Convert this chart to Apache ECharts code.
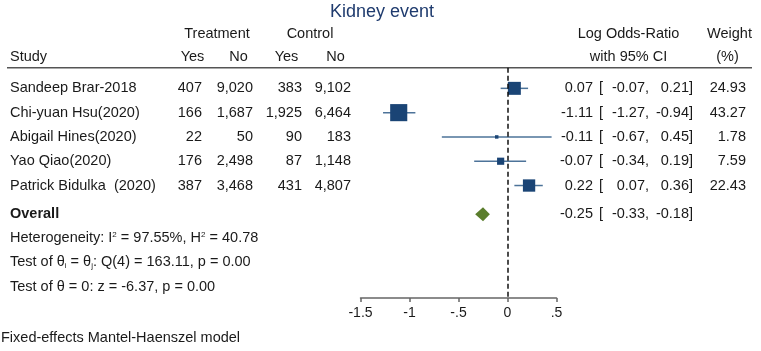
<!DOCTYPE html>
<html>
<head>
<meta charset="utf-8">
<script src="https://cdn.jsdelivr.net/npm/echarts@6/dist/echarts.min.js"></script>
<style>
  html, body { margin: 0; padding: 0; background: #fff; }
  #chart { width: 761px; height: 351px; }
</style>
</head>
<body>
<div id="chart"></div>
<script>
// study level data
const studies = ['Sandeep Brar-2018', 'Chi-yuan Hsu(2020)', 'Abigail Hines(2020)', 'Yao Qiao(2020)', 'Patrick Bidulka  (2020)'];
const trtYes = [407, 166, 22, 176, 387];
const trtNo = [9020, 1687, 50, 2498, 3468];
const ctlYes = [383, 1925, 90, 87, 431];
const ctlNo = [9102, 6464, 183, 1148, 4807];
const logOR = [0.07, -1.11, -0.11, -0.07, 0.22];
const ciLow = [-0.07, -1.27, -0.67, -0.34, 0.07];
const ciHigh = [0.21, -0.94, 0.45, 0.19, 0.36];
const weights = [24.93, 43.27, 1.78, 7.59, 22.43];

// pooled estimate
const overallEst = -0.25;
const overallLow = -0.33;
const overallHigh = -0.18;

const xTicks = [-1.5, -1, -0.5, 0, 0.5];

const FONT = 'Liberation Sans, Arial, sans-serif';
const FS = 14.5;
const TXT = '#1a1a1a';
const OVERALL_ROW = 6.18;

const chart = echarts.init(document.getElementById('chart'));

const fmtInt = v => v.toLocaleString('en-US');
const fmt2 = v => v.toFixed(2);
const tickFmt = v => {
    if (v === 0) return '0';
    return String(v).replace('0.', '.');
};

function txt(x, y, text, align, extra) {
    return Object.assign({
        x: x, y: y, text: text,
        fill: TXT, fontFamily: FONT, fontSize: FS,
        align: align || 'left', verticalAlign: 'middle'
    }, extra || {});
}

// the CI text columns, shared by study rows and overall row
function ciCols(y, est, lo, hi) {
    return [
        txt(593, y, fmt2(est), 'right'),
        txt(599, y, '['),
        txt(649, y, fmt2(lo) + ',', 'right'),
        txt(693, y, fmt2(hi) + ']', 'right')
    ];
}

// table row text, positioned vertically by the y axis
function renderRow(params, api) {
    const i = params.dataIndex;
    const y = api.coord([0, api.value(1)])[1];
    const items = [
        txt(10, y, studies[i]),
        txt(202, y, fmtInt(trtYes[i]), 'right'),
        txt(253, y, fmtInt(trtNo[i]), 'right'),
        txt(302, y, fmtInt(ctlYes[i]), 'right'),
        txt(351, y, fmtInt(ctlNo[i]), 'right'),
        ...ciCols(y, logOR[i], ciLow[i], ciHigh[i]),
        txt(746, y, fmt2(weights[i]), 'right')
    ];
    return {
        type: 'group',
        children: items.map(s => ({ type: 'text', style: s }))
    };
}

function renderOverallText(params, api) {
    const y = api.coord([0, api.value(1)])[1];
    const items = [
        txt(10, y, 'Overall', 'left', { fontWeight: 'bold' }),
        ...ciCols(y, overallEst, overallLow, overallHigh)
    ];
    return {
        type: 'group',
        children: items.map(s => ({ type: 'text', style: s }))
    };
}

function renderCI(params, api) {
    const a = api.coord([api.value(0), api.value(2)]);
    const b = api.coord([api.value(1), api.value(2)]);
    return {
        type: 'line',
        shape: { x1: a[0], y1: a[1], x2: b[0], y2: b[1] },
        style: { stroke: '#4d7399', lineWidth: 1.5 }
    };
}

function renderDiamond(params, api) {
    const l = api.coord([api.value(0), api.value(3)]);
    const c = api.coord([api.value(1), api.value(3)]);
    const r = api.coord([api.value(2), api.value(3)]);
    const h = 7;
    return {
        type: 'polygon',
        shape: { points: [[l[0], l[1]], [c[0], c[1] - h], [r[0], r[1]], [c[0], c[1] + h]] },
        style: { fill: '#5a7d2c' }
    };
}

const rows = studies.map((s, i) => i + 1);

const richFoot = {
    sup: { fontSize: 8, fontFamily: FONT, fill: TXT, verticalAlign: 'top', lineHeight: 8 },
    sub: { fontSize: 8, fontFamily: FONT, fill: TXT, verticalAlign: 'bottom', lineHeight: 8 }
};

const option = {
    animation: false,
    grid: { left: 360.5, right: 204.5, top: 67.7, bottom: 53 },
    xAxis: {
        type: 'value',
        min: -1.5,
        max: 0.5,
        interval: 0.5,
        axisLine: { show: true, onZero: false, lineStyle: { color: '#666', width: 1.5 } },
        axisTick: { show: true, length: 4, lineStyle: { color: '#666', width: 1.5 } },
        axisLabel: {
            fontSize: 14, color: TXT, fontFamily: FONT, margin: 8,
            formatter: v => xTicks.includes(v) ? tickFmt(v) : ''
        },
        splitLine: { show: false }
    },
    yAxis: { type: 'value', inverse: true, min: 0.15, max: 9.63, show: false },
    graphic: [
        { type: 'text', style: txt(382, 12, 'Kidney event', 'center', { fontSize: 18, fill: '#1f3b6e' }) },
        { type: 'text', style: txt(217, 34, 'Treatment', 'center') },
        { type: 'text', style: txt(310, 34, 'Control', 'center') },
        { type: 'text', style: txt(10, 57, 'Study') },
        { type: 'text', style: txt(192.5, 57, 'Yes', 'center') },
        { type: 'text', style: txt(238.5, 57, 'No', 'center') },
        { type: 'text', style: txt(286.5, 57, 'Yes', 'center') },
        { type: 'text', style: txt(335.5, 57, 'No', 'center') },
        { type: 'text', style: txt(628.5, 34, 'Log Odds-Ratio', 'center') },
        { type: 'text', style: txt(628.5, 57, 'with 95% CI', 'center') },
        { type: 'text', style: txt(729.5, 34, 'Weight', 'center') },
        { type: 'text', style: txt(727.5, 57, '(%)', 'center') },
        {
            type: 'line',
            shape: { x1: 7, y1: 67.7, x2: 752, y2: 67.7 },
            style: { stroke: '#555', lineWidth: 1.5 }
        },
        { type: 'text', style: txt(10, 238, 'Heterogeneity: I{sup|2} = 97.55%, H{sup|2} = 40.78', 'left', { rich: richFoot }) },
        { type: 'text', style: txt(10, 262, 'Test of \u03b8{sub|i} = \u03b8{sub|j}: Q(4) = 163.11, p = 0.00', 'left', { rich: richFoot }) },
        { type: 'text', style: txt(10, 287, 'Test of \u03b8 = 0: z = -6.37, p = 0.00') },
        { type: 'text', style: txt(1, 338, 'Fixed-effects Mantel-Haenszel model') }
    ],
    series: [
        {
            type: 'custom',
            name: 'ci',
            clip: false,
            renderItem: renderCI,
            encode: { x: [0, 1], y: 2 },
            data: rows.map((r, i) => [ciLow[i], ciHigh[i], r]),
            markLine: {
                silent: true,
                symbol: 'none',
                label: { show: false },
                lineStyle: { color: '#111', type: [5, 3], width: 1.5 },
                data: [{ xAxis: 0 }]
            },
            z: 2
        },
        {
            type: 'scatter',
            name: 'estimate',
            symbol: 'rect',
            symbolSize: (val, p) => 2.6 * Math.sqrt(weights[p.dataIndex]),
            itemStyle: { color: '#1a4475', opacity: 1 },
            data: rows.map((r, i) => [logOR[i], r]),
            z: 3
        },
        {
            type: 'custom',
            name: 'overall',
            clip: false,
            renderItem: renderDiamond,
            encode: { x: [0, 1, 2], y: 3 },
            data: [[overallLow, overallEst, overallHigh, OVERALL_ROW]],
            z: 3
        },
        {
            type: 'custom',
            name: 'table',
            clip: false,
            renderItem: renderRow,
            encode: { x: 0, y: 1 },
            data: rows.map(r => [0, r]),
            z: 4
        },
        {
            type: 'custom',
            name: 'overallText',
            clip: false,
            renderItem: renderOverallText,
            encode: { x: 0, y: 1 },
            data: [[0, OVERALL_ROW]],
            z: 4
        }
    ]
};

chart.setOption(option);
</script>
</body>
</html>
